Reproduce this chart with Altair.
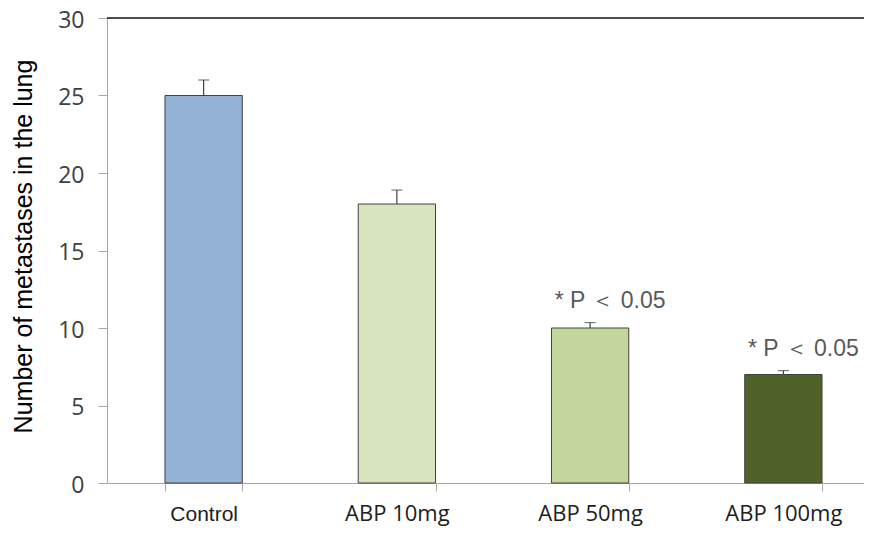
import altair as alt
import pandas as pd

groups = ["Control", "ABP 10mg", "ABP 50mg", "ABP 100mg"]
means = [25, 18, 10, 7]
errors = [1.0, 0.9, 0.35, 0.25]
notes = ["", "", "* P ＜ 0.05", "* P ＜ 0.05"]
colors = ["#95b3d7", "#d7e4bd", "#c3d69b", "#4f6228"]

df = pd.DataFrame({"group": groups, "mean": means, "err": errors, "note": notes})
df["top"] = df["mean"] + df["err"]

xscale = alt.Scale(paddingInner=0.6, paddingOuter=0.3, range=[0, 773])
xenc = alt.X(
    "group:N", sort=groups, scale=xscale,
    axis=alt.Axis(
        title=None, labelAngle=0, tickBand="extent", tickSize=8,
        tickColor="#a6a6a6", domainColor="#a6a6a6",
        labelFontSize=alt.condition("datum.value == 'Control'", alt.value(21), alt.value(22)),
        labelColor="#202020", labelPadding=12,
        labelFont=alt.condition("datum.value == 'Control'", alt.value("Liberation Sans"), alt.value("Open Sans")),
    ),
)
yscale = alt.Scale(domain=[0, 30])

base = alt.Chart(df)

bars = base.mark_bar(stroke="#404040", strokeWidth=1).encode(
    x=xenc,
    y=alt.Y(
        "mean:Q", scale=yscale,
        axis=alt.Axis(
            values=[0, 5, 10, 15, 20, 25, 30], grid=False, tickSize=9,
            tickColor="#a6a6a6", domainColor="#a6a6a6", labelFontSize=23,
            labelFont="Open Sans", labelColor="#404040", labelPadding=14,
            labelOffset=2,
            title="Number of metastases in the lung", titleFont="Liberation Sans",
            titleFontSize=25, titleFontWeight="normal", titleColor="#000000",
            titleAngle=-90, titleX=-84, titleY=228, titleAlign="center",
            titleBaseline="middle",
        ),
    ),
    color=alt.Color("group:N", sort=groups, scale=alt.Scale(domain=groups, range=colors), legend=None),
)

err_rule = base.mark_rule(color="#404040", strokeWidth=1.2).encode(
    x=alt.X("group:N", sort=groups), y="mean:Q", y2="top:Q"
)
err_cap = base.mark_tick(color="#404040", size=11, thickness=1.2).encode(
    x=alt.X("group:N", sort=groups), y="top:Q"
)
labels = base.mark_text(
    dx=20, dy=-10, baseline="bottom", fontSize=23, color="#595959",
    font="Liberation Sans",
).encode(x=alt.X("group:N", sort=groups), y="top:Q", text="note:N")

top_rule = alt.Chart(df).mark_rule(color="#404040", strokeWidth=1).encode(
    y=alt.datum(30), x=alt.value(0), x2=alt.value(773)
)

chart = alt.layer(bars, err_rule, err_cap, labels, top_rule).properties(
    width=757, height=465, autosize=alt.AutoSizeParams(type="none"),
    padding={"left": 99, "top": 10, "right": 0, "bottom": 43},
).configure_view(stroke=None)

chart.save("out.html", embed_options={"renderer": "svg", "actions": False})
